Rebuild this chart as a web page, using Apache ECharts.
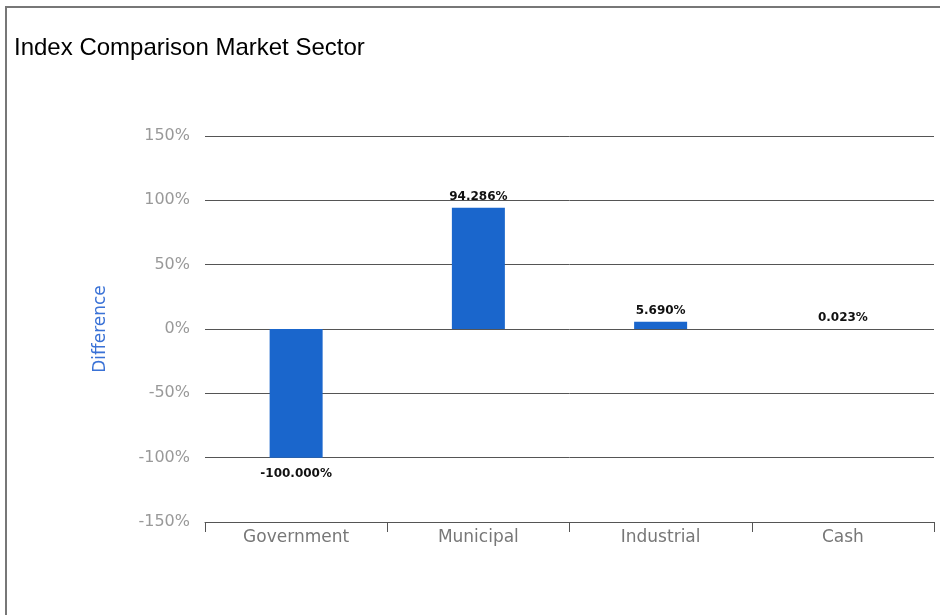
<!DOCTYPE html>
<html>
<head>
<meta charset="utf-8">
<script src="https://cdn.jsdelivr.net/npm/echarts@6/dist/echarts.min.js"></script>
<style>
html,body{margin:0;padding:0;background:#fff;}
#chart{width:940px;height:615px;position:absolute;left:0;top:0;}
#frame{position:absolute;left:5px;top:6px;width:950px;height:620px;border-left:2px solid #777;border-top:2px solid #777;pointer-events:none;}
</style>
</head>
<body>
<div id="chart"></div>
<div id="frame"></div>
<script>
var categories = ['Government', 'Municipal', 'Industrial', 'Cash'];
var values = [-100.000, 94.286, 5.690, 0.023];
var yTicks = { min: -150, max: 150, interval: 50 };

var chart = echarts.init(document.getElementById('chart'), null, {renderer: 'canvas'});
var seriesData = values.map(function (v) {
  return v < 0 ? { value: v, label: { position: 'bottom', distance: 10 } } : v;
});
chart.setOption({
  animation: false,
  title: {
    text: 'Index Comparison Market Sector',
    left: 9, top: 31,
    textStyle: { fontFamily: 'Liberation Sans, Arial', fontSize: 24, fontWeight: 'normal', color: '#000' }
  },
  grid: { left: 205, right: 6, top: 136, bottom: 93, containLabel: false },
  xAxis: {
    type: 'category',
    data: categories,
    boundaryGap: true,
    axisLine: { show: true, onZero: false, lineStyle: { color: '#555', width: 1 } },
    axisTick: { show: true, length: 10, lineStyle: { color: '#555' }, alignWithLabel: false },
    axisLabel: { color: '#777', fontFamily: 'DejaVu Sans', fontSize: 17, margin: 7 },
    splitLine: { show: false }
  },
  yAxis: {
    type: 'value',
    min: yTicks.min, max: yTicks.max, interval: yTicks.interval,
    name: 'Difference',
    nameLocation: 'middle',
    nameGap: 96,
    nameTextStyle: { color: '#3a72d6', fontFamily: 'DejaVu Sans', fontSize: 17 },
    axisLine: { show: false },
    axisTick: { show: false },
    axisLabel: { color: '#999', fontFamily: 'DejaVu Sans', fontSize: 16, margin: 15, formatter: '{value}%' },
    splitLine: { show: true, lineStyle: { color: '#555', width: 1 } }
  },
  series: [{
    type: 'bar',
    data: seriesData,
    barWidth: 53,
    itemStyle: { color: '#1a66cc' },
    label: {
      show: true,
      position: 'top',
      distance: 5,
      color: '#111',
      fontFamily: 'DejaVu Sans',
      fontSize: 12,
      fontWeight: 'bold',
      formatter: function (p) { return p.value.toFixed(3) + '%'; }
    }
  }]
});
</script>
</body>
</html>
